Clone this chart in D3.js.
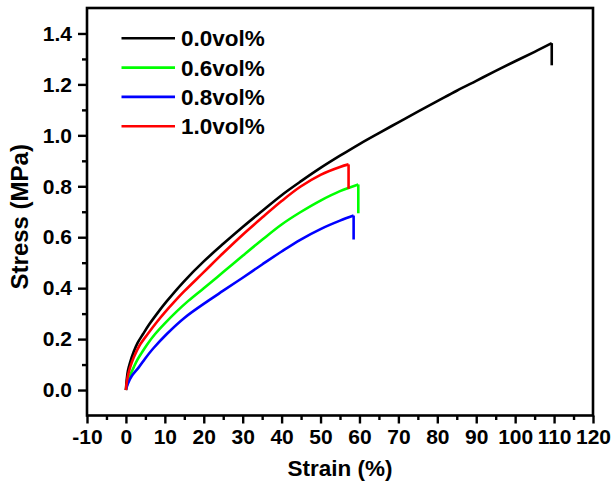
<!DOCTYPE html>
<html>
<head>
<meta charset="utf-8">
<script src="https://cdn.jsdelivr.net/npm/d3@7"></script>
<style>
  html, body { margin: 0; padding: 0; background: #fff; }
  svg text { font-family: "Liberation Sans", Arial, sans-serif; font-weight: bold; fill: #000; }
</style>
</head>
<body>
<svg id="chart" width="611" height="482"></svg>
<script>
// Tensile stress-strain curves for four filler loadings
const seriesNames = ["0.0vol%", "0.6vol%", "0.8vol%", "1.0vol%"];
const seriesColors = ["#000000", "#00ff00", "#0000ff", "#ff0000"];

// [strain %, stress MPa]; the break point of each series is kept separately
const curve00 = [[0,0],[0.2,0.04],[0.5,0.075],[1,0.105],[2,0.15],[3,0.185],[4.4,0.22],[6,0.258],
  [8,0.30],[10.4,0.347],[15,0.428],[20,0.505],[25,0.574],[30,0.64],[35,0.703],[40,0.765],
  [45,0.82],[50,0.872],[55,0.92],[60,0.966],[65,1.009],[70,1.051],[75,1.093],[80,1.134],
  [85,1.175],[90,1.214],[95,1.253],[100,1.291],[105,1.328],[109.4,1.362]];
const break00 = [109.4, 1.275];

const curve06 = [[0,0],[0.5,0.035],[1,0.055],[2,0.089],[3,0.12],[4,0.145],[5.5,0.18],[7.5,0.22],
  [10,0.262],[13,0.308],[16.1,0.351],[20,0.40],[25,0.463],[30,0.527],[35,0.59],[40,0.65],
  [44.8,0.698],[50,0.744],[55,0.781],[59.7,0.807]];
const break06 = [59.7, 0.694];

const curve08 = [[0,0],[0.5,0.025],[1.5,0.055],[3.3,0.089],[5,0.125],[7,0.163],[10.5,0.22],
  [15,0.283],[21.2,0.351],[25,0.39],[30,0.441],[35,0.493],[40,0.544],[44.8,0.59],[50,0.632],
  [55,0.665],[58.5,0.685]];
const break08 = [58.5, 0.591];

const curve10 = [[0,0],[0.3,0.04],[1,0.085],[2,0.128],[3.5,0.175],[5.6,0.22],[8,0.268],
  [10,0.305],[12.7,0.351],[15,0.388],[20,0.463],[25,0.538],[30,0.61],[35,0.677],[40,0.742],
  [44.8,0.798],[50,0.845],[55,0.876],[57.2,0.886]];
const break10 = [57.2, 0.79];

const xTickValues = [-10,0,10,20,30,40,50,60,70,80,90,100,110,120];
const xMinorValues = [-5,5,15,25,35,45,55,65,75,85,95,105,115];
const yTickValues = [0.0,0.2,0.4,0.6,0.8,1.0,1.2,1.4];
const yMinorValues = [0.1,0.3,0.5,0.7,0.9,1.1,1.3];

const curves = [curve00, curve06, curve08, curve10];
const breaks = [break00, break06, break08, break10];

const svg = d3.select("#chart");
const plotLeft = 87, plotRight = 593, plotTop = 8, plotBottom = 415.5;

const x = d3.scaleLinear().domain([-10, 120]).range([plotLeft, plotRight]);
const y = d3.scaleLinear().domain([-0.1, 1.5]).range([plotBottom, plotTop]);

const smooth = d3.line().x(d => x(d[0])).y(d => y(d[1])).curve(d3.curveCatmullRom.alpha(0.5));
const straight = d3.line().x(d => x(d[0])).y(d => y(d[1]));

// draw order: black, green, blue, red
curves.forEach((c, i) => {
  const g = svg.append("g");
  g.append("path").attr("d", smooth(c))
    .attr("fill", "none").attr("stroke", seriesColors[i])
    .attr("stroke-width", 2.6).attr("stroke-linejoin", "round");
  g.append("path").attr("d", straight([c[c.length - 1], breaks[i]]))
    .attr("fill", "none").attr("stroke", seriesColors[i])
    .attr("stroke-width", 2.6);
});

// axes (plain hyphen for negative labels)
const intFmt = d => String(d);
const xAxis = d3.axisBottom(x).tickValues(xTickValues).tickFormat(intFmt)
  .tickSize(8).tickPadding(6).tickSizeOuter(0);
const xMinor = d3.axisBottom(x).tickValues(xMinorValues).tickFormat("").tickSize(4.5).tickSizeOuter(0);
const yAxis = d3.axisLeft(y).tickValues(yTickValues).tickFormat(d => d.toFixed(1))
  .tickSize(9).tickPadding(6).tickSizeOuter(0);
const yMinor = d3.axisLeft(y).tickValues(yMinorValues).tickFormat("").tickSize(5).tickSizeOuter(0);

function styleAxis(g) {
  g.select(".domain").remove();
  g.selectAll(".tick line").attr("stroke", "#000").attr("stroke-width", 2.4);
  g.selectAll(".tick text").style("font-size", "21px").attr("fill", "#000");
}

svg.append("g").attr("transform", `translate(0,${plotBottom})`).call(xAxis).call(styleAxis);
svg.append("g").attr("transform", `translate(0,${plotBottom})`).call(xMinor).call(styleAxis);
svg.append("g").attr("transform", `translate(${plotLeft},0)`).call(yAxis).call(styleAxis);
svg.append("g").attr("transform", `translate(${plotLeft},0)`).call(yMinor).call(styleAxis);

// frame
svg.append("rect")
  .attr("x", plotLeft).attr("y", plotTop)
  .attr("width", plotRight - plotLeft).attr("height", plotBottom - plotTop)
  .attr("fill", "none").attr("stroke", "#000").attr("stroke-width", 2.6);

// axis titles
svg.append("text")
  .attr("x", (plotLeft + plotRight) / 2).attr("y", 476)
  .attr("text-anchor", "middle").style("font-size", "22.5px")
  .text("Strain (%)");
svg.append("text")
  .attr("transform", `translate(28,${(plotTop + plotBottom) / 2 + 5}) rotate(-90)`)
  .attr("text-anchor", "middle").style("font-size", "24px")
  .text("Stress (MPa)");

// legend
const legend = svg.append("g");
seriesNames.forEach((name, i) => {
  const ly = 38.3 + i * 29.3;
  legend.append("line")
    .attr("x1", 121.5).attr("x2", 175).attr("y1", ly).attr("y2", ly)
    .attr("stroke", seriesColors[i]).attr("stroke-width", 2.6);
  legend.append("text")
    .attr("x", 181).attr("y", ly + 8)
    .style("font-size", "22.5px")
    .text(name);
});
</script>
</body>
</html>
